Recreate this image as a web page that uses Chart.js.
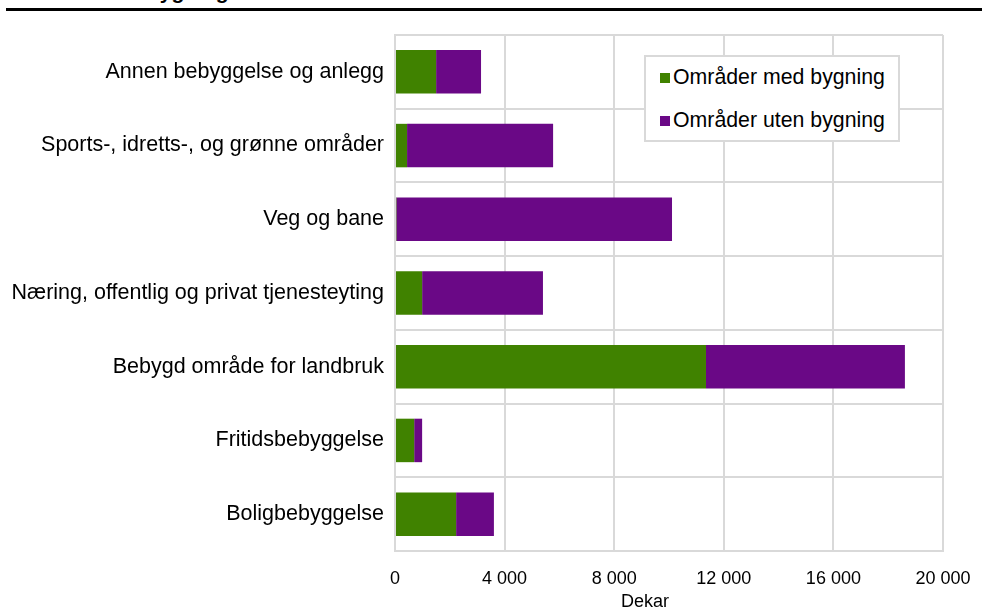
<!DOCTYPE html>
<html>
<head>
<meta charset="utf-8">
<script src="https://cdn.jsdelivr.net/npm/chart.js@4/dist/chart.umd.min.js"></script>
<style>
  html, body { margin: 0; padding: 0; background: #fff; }
  body { width: 982px; height: 612px; position: relative; overflow: hidden; font-family: "Liberation Sans", Arial, sans-serif; }
  #topline { position: absolute; left: 6px; right: 0; top: 8px; height: 3px; background: #000; }
  #cut_title { position: absolute; left: 147px; top: -19px; font-size: 21px; line-height: 21px; font-weight: bold; color: #000; white-space: nowrap; }
  #wrap { position: absolute; left: 0; top: 0; width: 982px; height: 612px; }
  #legend_box { position: absolute; left: 644px; top: 55px; width: 252px; height: 83px; border: 2px solid #d9d9d9; background: #fff; }
  .legend_item { position: absolute; left: 14px; font-size: 21.3px; line-height: 24px; color: #000; white-space: nowrap; }
  .legend_item span.sw { display: inline-block; width: 10px; height: 10px; margin-right: 3px; vertical-align: 1px; }
  #x_title { position: absolute; top: 590px; left: 645px; transform: translateX(-50%); font-size: 18px; line-height: 22px; color: #000; }
</style>
</head>
<body>
<div id="topline"></div>
<div id="cut_title">bygning</div>
<div id="wrap"><canvas id="areal_chart" width="982" height="612"></canvas></div>
<div id="legend_box"></div>
<div id="x_title">Dekar</div>
<script>
// categories, top to bottom
const categories = [
    "Annen bebyggelse og anlegg",
    "Sports-, idretts-, og grønne områder",
    "Veg og bane",
    "Næring, offentlig og privat tjenesteyting",
    "Bebygd område for landbruk",
    "Fritidsbebyggelse",
    "Boligbebyggelse"
];
const series_names = ["Områder med bygning", "Områder uten bygning"];
const med_bygning = [1500, 440, 50, 990, 11350, 700, 2230];
const uten_bygning = [1640, 5330, 10060, 4410, 7260, 290, 1380];
const x_ticks = [0, 4000, 8000, 12000, 16000, 20000];
const series_colors = ["rgb(64, 130, 0)", "rgb(106, 8, 134)"];

const gridColor = "#d9d9d9";
const fontFamily = "'Liberation Sans', Arial, sans-serif";

function formatThousands(v) {
    return String(v).replace(/\B(?=(\d{3})+(?!\d))/g, " ");   // 4000 -> "4 000"
}

new Chart("areal_chart", {
    type: "bar",
    data: {
        labels: categories,
        datasets: [{
            label: series_names[0],
            data: med_bygning,
            backgroundColor: series_colors[0]
        }, {
            label: series_names[1],
            data: uten_bygning,
            backgroundColor: series_colors[1]
        }]
    },
    options: {
        indexAxis: "y",
        responsive: false,
        animation: false,
        categoryPercentage: 1,
        barPercentage: 0.59,
        layout: { padding: { top: 35, right: 39, left: 0, bottom: 0 } },
        plugins: {
            legend: { display: false },
            tooltip: { enabled: false }
        },
        scales: {
            x: {
                stacked: true,
                min: 0,
                max: 20000,
                afterBuildTicks: (scale) => { scale.ticks = x_ticks.map(v => ({ value: v })); },
                afterFit: (scale) => {
                    scale.height = 612 - 551;
                    scale.paddingLeft = 0;     // let the layout padding decide the plot edges
                    scale.paddingRight = 0;
                },
                grid: { color: gridColor, lineWidth: 2, drawTicks: false },
                border: { color: gridColor, width: 2 },
                ticks: {
                    color: "#000",
                    font: { family: fontFamily, size: 18 },
                    padding: 17,
                    maxRotation: 0,
                    callback: (v) => formatThousands(v)
                }
            },
            y: {
                stacked: true,
                afterFit: (scale) => { scale.width = 395; },
                grid: { color: gridColor, lineWidth: 2, drawTicks: false, offset: true },
                border: { color: gridColor, width: 2 },
                ticks: { color: "#000", font: { family: fontFamily, size: 21.5 }, padding: 11 }
            }
        }
    }
});

// legend inside the plot, built from the series names
let legend_box = document.getElementById("legend_box");
series_names.forEach((name, i) => {
    let item = document.createElement("div");
    item.className = "legend_item";
    item.style.top = (8 + i * 43) + "px";
    item.innerHTML = `<span class="sw" style="background:${series_colors[i]}"></span>${name}`;
    legend_box.appendChild(item);
});
</script>
</body>
</html>
